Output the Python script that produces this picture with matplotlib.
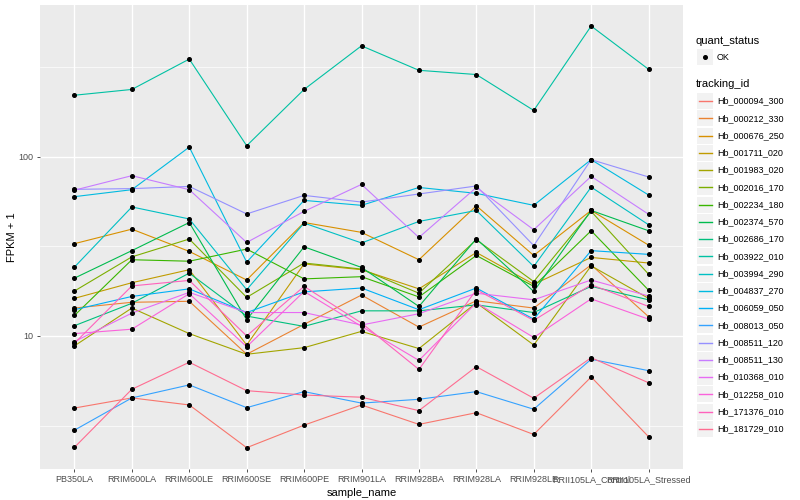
import numpy as np
import matplotlib.pyplot as plt
from matplotlib.patches import Rectangle
from matplotlib.lines import Line2D
from matplotlib.ticker import FixedLocator, NullFormatter

plt.rcParams['font.family'] = ['Liberation Sans', 'DejaVu Sans']

samples = ["PB350LA", "RRIM600LA", "RRIM600LE", "RRIM600SE", "RRIM600PE",
           "RRIM901LA", "RRIM928BA", "RRIM928LA", "RRIM928LE",
           "RRII105LA_Control", "RRII105LA_Stressed"]

tracking_ids = ["Hb_000094_300", "Hb_000212_330", "Hb_000676_250", "Hb_001711_020",
                "Hb_001983_020", "Hb_002016_170", "Hb_002234_180", "Hb_002374_570",
                "Hb_002686_170", "Hb_003922_010", "Hb_003994_290", "Hb_004837_270",
                "Hb_006059_050", "Hb_008013_050", "Hb_008511_120", "Hb_008511_130",
                "Hb_010368_010", "Hb_012258_010", "Hb_171376_010", "Hb_181729_010"]

# ggplot hue palette, 20 levels
colors = ["#F8766D", "#EA8331", "#D89000", "#C09B00", "#A3A500", "#7CAE00", "#39B600",
          "#00BB4E", "#00BF7D", "#00C1A3", "#00BFC4", "#00BAE0", "#00B0F6", "#35A2FF",
          "#9590FF", "#C77CFF", "#E76BF3", "#FA62DB", "#FF62BC", "#FF6C91"]

# FPKM + 1 per sample
hb_000094_300 = [3.96, 4.51, 4.12, 2.38, 3.18, 4.12, 3.21, 3.73, 2.82, 5.90, 2.74]
hb_000212_330 = [14.3, 15.4, 15.6, 7.9, 11.6, 16.9, 11.2, 15.7, 14.3, 24.9, 12.8]
hb_000676_250 = [32.7, 39.4, 29.6, 20.5, 42.9, 37.8, 26.6, 53.2, 28.1, 50.1, 32.1]
hb_001711_020 = [16.2, 19.8, 23.4, 8.9, 25.2, 23.4, 18.3, 29.2, 19.4, 27.4, 25.5]
hb_001983_020 = [8.8, 14.3, 10.3, 7.9, 8.6, 10.6, 8.5, 15.3, 8.9, 24.6, 16.2]
hb_002016_170 = [17.8, 27.6, 34.7, 16.4, 25.5, 23.6, 17.3, 34.4, 20.1, 49.5, 22.1]
hb_002234_180 = [13.0, 26.6, 26.1, 30.5, 20.8, 21.4, 16.5, 28.1, 18.9, 38.6, 18.0]
hb_002374_570 = [21.0, 29.9, 42.9, 12.3, 31.4, 24.1, 14.6, 34.8, 17.7, 50.1, 38.6]
hb_002686_170 = [11.4, 15.2, 22.4, 12.9, 11.3, 13.8, 13.8, 14.9, 13.5, 18.9, 15.9]
hb_003922_010 = [220, 237, 350, 115, 237, 415, 303, 287, 181, 535, 307]
hb_003994_290 = [24.2, 52.4, 44.9, 18.1, 42.6, 33.0, 43.5, 50.1, 24.4, 67.6, 41.7]
hb_004837_270 = [59.8, 65.4, 113, 25.8, 57.0, 53.5, 67.3, 62.4, 53.5, 96.2, 61.1]
hb_006059_050 = [14.0, 16.6, 18.3, 13.5, 17.6, 18.5, 14.0, 18.5, 12.4, 29.9, 28.5]
hb_008013_050 = [2.98, 4.51, 5.33, 3.98, 4.89, 4.22, 4.43, 4.89, 3.90, 7.41, 6.40]
hb_008511_120 = [65.7, 66.3, 68.2, 47.9, 60.8, 55.8, 61.9, 68.6, 31.9, 96.2, 77.0]
hb_008511_130 = [65.0, 78.3, 65.4, 33.2, 49.5, 70.0, 35.4, 67.3, 39.1, 77.6, 47.7]
hb_010368_010 = [9.3, 13.4, 17.5, 13.5, 13.5, 11.5, 13.3, 17.3, 15.9, 20.5, 16.7]
hb_012258_010 = [10.3, 10.9, 17.2, 8.7, 17.7, 11.3, 7.3, 15.3, 9.8, 16.1, 12.4]
hb_171376_010 = [9.1, 19.0, 20.4, 10.0, 18.9, 11.8, 6.5, 18.1, 12.2, 19.3, 14.6]
hb_181729_010 = [2.39, 5.04, 7.13, 4.95, 4.68, 4.55, 3.83, 6.74, 4.49, 7.56, 5.48]

series = [hb_000094_300, hb_000212_330, hb_000676_250, hb_001711_020, hb_001983_020,
          hb_002016_170, hb_002234_180, hb_002374_570, hb_002686_170, hb_003922_010,
          hb_003994_290, hb_004837_270, hb_006059_050, hb_008013_050, hb_008511_120,
          hb_008511_130, hb_010368_010, hb_012258_010, hb_171376_010, hb_181729_010]

W, H = 800, 500
fig = plt.figure(figsize=(8, 5), dpi=100)
ax = fig.add_axes([40 / W, 1 - 469 / H, (683 - 40) / W, (469 - 5) / H])
ax.set_facecolor('#EBEBEB')
for s in ax.spines.values():
    s.set_visible(False)

x = np.arange(len(samples))
for vals, col in zip(series, colors):
    ax.plot(x, vals, color=col, lw=0.8, zorder=2)
for vals in series:
    ax.plot(x, vals, 'o', color='black', ms=2.6, zorder=3)

ax.set_yscale('log')
ax.set_ylim(1.81, 701)
ax.set_xlim(-0.6, 10.6)
ax.set_yticks([10, 100])
ax.set_yticklabels(['10', '100'])
ax.yaxis.set_minor_locator(FixedLocator([10 ** 0.5, 10 ** 1.5, 10 ** 2.5]))
ax.yaxis.set_minor_formatter(NullFormatter())
ax.set_xticks(x)
ax.set_xticklabels(samples)
ax.tick_params(which='minor', length=0)
ax.tick_params(which='major', length=2.5, width=0.6, color='#333333',
               labelcolor='#4D4D4D', labelsize=6.5, pad=2)
ax.grid(which='major', color='white', lw=1.0)
ax.grid(which='minor', axis='y', color='white', lw=0.5)
ax.set_axisbelow(True)
ax.set_xlabel('sample_name', fontsize=8, labelpad=3)
ax.set_ylabel('FPKM + 1', fontsize=8, labelpad=1)

# legend, drawn in figure pixels like ggplot's guide boxes
def fx(px):
    return px / W

def fy(py):
    return 1 - py / H

fig.text(fx(696), fy(40.7), 'quant_status', fontsize=8, va='center')
fig.add_artist(Rectangle((fx(697), fy(65)), 16 / W, 16 / H, transform=fig.transFigure,
                         facecolor='#F2F2F2', edgecolor='none'))
fig.add_artist(Line2D([fx(705)], [fy(57)], marker='o', color='black', ms=2.6,
                      transform=fig.transFigure))
fig.text(fx(717), fy(57), 'OK', fontsize=6.5, va='center')

fig.text(fx(696), fy(84.3), 'tracking_id', fontsize=8, va='center')
for i, (tid, col) in enumerate(zip(tracking_ids, colors)):
    yc = 101 + 17.26 * i
    fig.add_artist(Rectangle((fx(697), fy(yc + 8)), 16 / W, 16 / H,
                             transform=fig.transFigure, facecolor='#F2F2F2',
                             edgecolor='none'))
    fig.add_artist(Line2D([fx(698.5), fx(711.5)], [fy(yc), fy(yc)], color=col, lw=1.0,
                          transform=fig.transFigure))
    fig.text(fx(717), fy(yc), tid, fontsize=6.5, va='center')

fig.savefig('out.png', dpi=100)
